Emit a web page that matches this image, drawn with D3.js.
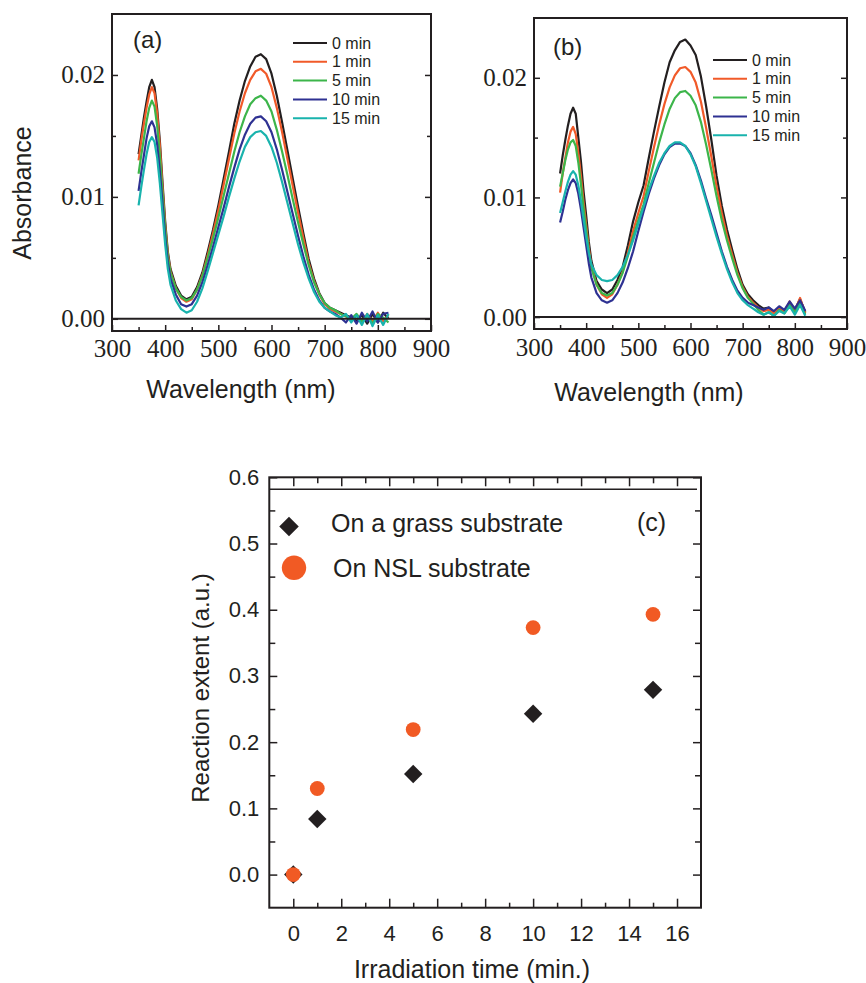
<!DOCTYPE html>
<html lang="en">
<head>
<meta charset="UTF-8">
<title>Absorbance spectra and reaction extent</title>
<script src="https://d3js.org/d3.v7.min.js"></script>
<style>
    body { margin: 0; background: #fff; }
    svg { display: block; }
    .frame { fill: none; stroke: #231f20; stroke-width: 2; }
    .axis line { stroke: #231f20; stroke-width: 1.5; }
    .axis .domain { display: none; }
    .serif text { font-family: "Liberation Serif", "Times New Roman", serif; font-size: 25px; fill: #231f20; }
    .sans text { font-family: "Liberation Sans", Arial, sans-serif; font-size: 22px; fill: #231f20; }
    .label { font-family: "Liberation Sans", Arial, sans-serif; fill: #231f20; }
    .spectrum { fill: none; stroke-width: 2.2; stroke-linejoin: round; }
</style>
</head>
<body>
<svg id="fig" width="866" height="983"></svg>
<script>
// wavelength grid of the spectra (nm)
const wavelengths = [350, 355, 360, 365, 370, 375, 380, 385, 390, 395, 400, 405, 410,
    420, 430, 440, 450, 460, 470, 480, 490, 500, 510, 520, 530, 540, 550, 560, 570, 580,
    590, 600, 610, 620, 630, 640, 650, 660, 670, 680, 690, 700, 710, 720, 730, 740, 750,
    760, 770, 780, 790, 800, 810, 820];

const seriesNames = ["0 min", "1 min", "5 min", "10 min", "15 min"];
const seriesColors = ["#231f20", "#f15a29", "#3cb54a", "#2e3192", "#19b3ad"];

// panel (a)
const absA0 = [.0135, .0150, .0165, .0178, .0190, .0196, .0190, .0172, .0146, .0112, .0080, .0055, .0041,
    .0027, .0019, .0016, .0018, .0026, .0038, .0055, .0073, .0093, .0115, .0137, .0160, .0179, .0195, .0207, .0215, .0217,
    .0213, .0201, .0183, .0161, .0138, .0115, .0092, .0070, .0049, .0033, .0021, .0013, .0009, .0007, .0005, .0003, .0001,
    -.0002, .0003, -.0004, .0004, -.0003, .0005, .0000];
const absA1 = [.0130, .0146, .0160, .0173, .0184, .0190, .0185, .0168, .0142, .0108, .0077, .0053, .0039,
    .0025, .0017, .0014, .0016, .0024, .0036, .0052, .0070, .0089, .0110, .0131, .0152, .0170, .0185, .0196, .0203, .0205,
    .0201, .0190, .0173, .0153, .0131, .0109, .0087, .0066, .0046, .0031, .0020, .0012, .0008, .0006, .0004, .0002, -.0001,
    .0003, -.0003, .0004, -.0002, .0005, -.0002, .0003];
const absA5 = [.0119, .0134, .0148, .0162, .0173, .0179, .0174, .0158, .0134, .0103, .0074, .0051, .0038,
    .0025, .0018, .0015, .0017, .0024, .0035, .0050, .0066, .0083, .0101, .0119, .0137, .0153, .0166, .0176, .0181, .0183,
    .0179, .0170, .0155, .0137, .0118, .0098, .0079, .0061, .0044, .0030, .0020, .0013, .0009, .0007, .0004, .0002, .0000,
    .0004, -.0002, .0003, -.0004, .0004, .0001, -.0003];
const absA10 = [.0105, .0120, .0134, .0148, .0158, .0162, .0157, .0143, .0121, .0094, .0067, .0046, .0033,
    .0020, .0012, .0010, .0012, .0019, .0030, .0044, .0059, .0075, .0091, .0108, .0124, .0139, .0151, .0160, .0165, .0166,
    .0162, .0153, .0139, .0122, .0104, .0086, .0068, .0051, .0036, .0024, .0015, .0009, .0006, .0004, .0001, -.0003, .0003,
    -.0004, .0005, -.0002, .0006, -.0003, .0004, .0005];
const absA15 = [.0093, .0108, .0122, .0135, .0145, .0149, .0145, .0132, .0111, .0086, .0061, .0041, .0028,
    .0015, .0008, .0005, .0007, .0014, .0025, .0039, .0054, .0069, .0084, .0100, .0115, .0129, .0141, .0149, .0153, .0154,
    .0150, .0141, .0128, .0112, .0095, .0078, .0061, .0046, .0033, .0022, .0014, .0009, .0006, .0003, .0001, .0004, -.0003,
    .0003, -.0005, .0004, -.0006, .0003, -.0005, .0004];

// panel (b)
const absB0 = [.0120, .0135, .0148, .0160, .0170, .0175, .0170, .0150, .0130, .0105, .0085, .0063, .0047,
    .0030, .0023, .0020, .0023, .0031, .0042, .0060, .0080, .0096, .0110, .0133, .0155, .0176, .0196, .0213, .0223, .0230,
    .0232, .0227, .0219, .0201, .0176, .0148, .0118, .0093, .0073, .0056, .0040, .0027, .0019, .0014, .0010, .0007, .0008,
    .0004, .0007, .0005, .0012, .0006, .0015, .0004];
const absB1 = [.0104, .0120, .0133, .0146, .0155, .0159, .0153, .0137, .0118, .0096, .0077, .0058, .0043,
    .0027, .0019, .0016, .0019, .0027, .0038, .0054, .0072, .0087, .0101, .0122, .0142, .0161, .0178, .0192, .0202, .0208,
    .0209, .0205, .0196, .0180, .0158, .0134, .0109, .0087, .0068, .0052, .0037, .0025, .0017, .0012, .0008, .0005, .0006,
    .0003, .0008, .0004, .0013, .0005, .0016, .0003];
const absB5 = [.0109, .0120, .0131, .0140, .0146, .0148, .0143, .0129, .0111, .0091, .0073, .0055, .0041,
    .0027, .0020, .0018, .0020, .0027, .0037, .0051, .0067, .0081, .0094, .0112, .0129, .0146, .0161, .0174, .0183, .0188,
    .0189, .0185, .0177, .0163, .0144, .0123, .0101, .0081, .0064, .0049, .0035, .0024, .0016, .0011, .0006, .0002, .0004,
    .0001, .0006, .0003, .0010, .0004, .0012, .0002];
const absB10 = [.0079, .0088, .0098, .0106, .0112, .0115, .0112, .0103, .0090, .0075, .0060, .0045, .0033,
    .0020, .0014, .0012, .0014, .0020, .0029, .0041, .0055, .0072, .0088, .0103, .0116, .0127, .0136, .0142, .0145, .0145,
    .0143, .0137, .0127, .0114, .0099, .0085, .0070, .0055, .0042, .0031, .0022, .0016, .0012, .0010, .0008, .0006, .0008,
    .0005, .0009, .0006, .0013, .0007, .0014, .0005];
const absB15 = [.0087, .0096, .0105, .0113, .0119, .0122, .0119, .0110, .0097, .0082, .0067, .0054, .0044,
    .0035, .0031, .0030, .0031, .0035, .0042, .0052, .0064, .0078, .0092, .0106, .0118, .0129, .0137, .0143, .0146, .0146,
    .0143, .0136, .0126, .0112, .0097, .0082, .0067, .0053, .0040, .0029, .0020, .0014, .0010, .0007, .0004, .0002, .0004,
    .0001, .0005, .0003, .0009, .0002, .0010, .0001];

// panel (c)
const irradTimes = [0, 1, 5, 10, 15];
const glassExtent = [0, 0.084, 0.152, 0.243, 0.279];
const nslExtent = [0, 0.130, 0.219, 0.373, 0.393];

// ticks
const wlTicks = [300, 400, 500, 600, 700, 800, 900];
const wlMinor = [350, 450, 550, 650, 750, 850];
const absTicks = [0, 0.01, 0.02];
const absMinor = [0.005, 0.015];
const timeTicks = [0, 2, 4, 6, 8, 10, 12, 14, 16];
const timeMinor = [1, 3, 5, 7, 9, 11, 13, 15];
const extentTicks = [0, 0.1, 0.2, 0.3, 0.4, 0.5, 0.6];
const extentMinor = [0.05, 0.15, 0.25, 0.35, 0.45, 0.55];

const svg = d3.select("#fig");

function drawTicks(g, axis, transform, cls) {
    const a = g.append("g")
        .attr("class", "axis " + cls)
        .attr("transform", transform)
        .call(axis);
    a.attr("font-family", null).attr("font-size", null);
    return a;
}

function spectrumPanel(cfg) {
    const g = svg.append("g");
    const x = d3.scaleLinear().domain([300, 900]).range([cfg.left, cfg.right]);
    const y = d3.scaleLinear().domain([-0.001, 0.025]).range([cfg.bottom, cfg.top]);

    const line = d3.line()
        .x((d, i) => x(wavelengths[i]))
        .y(d => y(d));

    g.selectAll(".spectrum")
        .data(cfg.series)
        .join("path")
        .attr("class", "spectrum")
        .attr("stroke", (d, i) => seriesColors[i])
        .attr("d", line);

    // zero line
    g.append("line")
        .attr("x1", x(300)).attr("x2", x(900))
        .attr("y1", y(0)).attr("y2", y(0))
        .attr("stroke", "#231f20").attr("stroke-width", 2);

    drawTicks(g, d3.axisBottom(x).tickValues(wlTicks).tickSize(-6).tickPadding(cfg.xPad).tickFormat(d3.format("d")),
        `translate(0,${cfg.bottom})`, "serif");
    drawTicks(g, d3.axisBottom(x).tickValues(wlMinor.filter(v => v < 900)).tickSize(-4).tickFormat(""),
        `translate(0,${cfg.bottom})`, "serif");
    drawTicks(g, d3.axisLeft(y).tickValues(absTicks).tickSize(-6).tickPadding(7).tickFormat(d3.format(".2f")),
        `translate(${cfg.left},0)`, "serif");
    drawTicks(g, d3.axisLeft(y).tickValues(absMinor).tickSize(-4).tickFormat(""),
        `translate(${cfg.left},0)`, "serif");
    drawTicks(g, d3.axisRight(y).tickValues(absTicks).tickSize(-6).tickFormat(""),
        `translate(${cfg.right},0)`, "serif");
    drawTicks(g, d3.axisRight(y).tickValues(absMinor).tickSize(-4).tickFormat(""),
        `translate(${cfg.right},0)`, "serif");

    g.append("rect").attr("class", "frame")
        .attr("x", cfg.left).attr("y", cfg.top)
        .attr("width", cfg.right - cfg.left).attr("height", cfg.bottom - cfg.top);

    // legend
    const leg = g.append("g");
    seriesNames.forEach((name, i) => {
        const ly = cfg.legY + i * cfg.legStep;
        leg.append("line")
            .attr("x1", cfg.legX).attr("x2", cfg.legX + 34)
            .attr("y1", ly).attr("y2", ly)
            .attr("stroke", seriesColors[i]).attr("stroke-width", 2);
        leg.append("text").attr("class", "label")
            .attr("x", cfg.legX + 39).attr("y", ly + 5.5)
            .attr("font-size", 16)
            .text(name);
    });

    g.append("text").attr("class", "label")
        .attr("x", cfg.tagX).attr("y", cfg.tagY)
        .attr("font-size", 24)
        .text(cfg.tag);

    g.append("text").attr("class", "label")
        .attr("x", cfg.xLabelX).attr("y", cfg.xLabelY)
        .attr("text-anchor", "middle")
        .attr("font-size", 25)
        .text("Wavelength (nm)");

    if (cfg.yLabel) {
        g.append("text").attr("class", "label")
            .attr("transform", `translate(31,193) rotate(-90)`)
            .attr("text-anchor", "middle")
            .attr("font-size", 25)
            .text(cfg.yLabel);
    }
}

spectrumPanel({
    left: 112, right: 431, top: 14, bottom: 331, xPad: 8,
    series: [absA0, absA1, absA5, absA10, absA15],
    legX: 293, legY: 43, legStep: 18.8,
    tag: "(a)", tagX: 133, tagY: 48,
    xLabelX: 241, xLabelY: 398,
    yLabel: "Absorbance"
});

spectrumPanel({
    left: 534, right: 847, top: 18, bottom: 329, xPad: 9,
    series: [absB0, absB1, absB5, absB10, absB15],
    legX: 713, legY: 60, legStep: 18.8,
    tag: "(b)", tagX: 553, tagY: 55,
    xLabelX: 649, xLabelY: 401
});

// panel (c)
(function () {
    const left = 269.3, right = 701, top = 477.3, bottom = 907.7;
    const g = svg.append("g");
    const x = d3.scaleLinear().domain([-1, 17]).range([left, right]);
    const y = d3.scaleLinear().domain([-0.05, 0.6]).range([bottom, top]);

    drawTicks(g, d3.axisBottom(x).tickValues(timeTicks).tickSize(-9).tickPadding(18).tickFormat(d3.format("d")),
        `translate(0,${bottom})`, "sans");
    drawTicks(g, d3.axisBottom(x).tickValues(timeMinor).tickSize(-5).tickFormat(""),
        `translate(0,${bottom})`, "sans");
    drawTicks(g, d3.axisTop(x).tickValues(timeTicks).tickSize(-9).tickFormat(""),
        `translate(0,${top})`, "sans");
    drawTicks(g, d3.axisTop(x).tickValues(timeMinor).tickSize(-6).tickFormat(""),
        `translate(0,${top})`, "sans");
    drawTicks(g, d3.axisLeft(y).tickValues(extentTicks).tickSize(-8).tickPadding(10).tickFormat(d3.format(".1f")),
        `translate(${left},0)`, "sans");
    drawTicks(g, d3.axisLeft(y).tickValues(extentMinor).tickSize(-6).tickFormat(""),
        `translate(${left},0)`, "sans");
    drawTicks(g, d3.axisRight(y).tickValues(extentTicks).tickSize(-8).tickFormat(""),
        `translate(${right},0)`, "sans");
    drawTicks(g, d3.axisRight(y).tickValues(extentMinor).tickSize(-6).tickFormat(""),
        `translate(${right},0)`, "sans");

    g.append("rect").attr("class", "frame")
        .attr("x", left).attr("y", top)
        .attr("width", right - left).attr("height", bottom - top);
    // inner rule under the top ticks
    g.append("line")
        .attr("x1", left).attr("x2", right - 4)
        .attr("y1", top + 12).attr("y2", top + 12)
        .attr("stroke", "#231f20").attr("stroke-width", 1.6);

    const diamond = d3.symbol(d3.symbolSquare, 170);
    const diamondBig = d3.symbol(d3.symbolSquare, 190);

    g.selectAll(".glass")
        .data(irradTimes)
        .join("path")
        .attr("class", "glass")
        .attr("transform", (d, i) => `translate(${x(d)},${y(glassExtent[i])}) rotate(45)`)
        .attr("d", diamond)
        .attr("fill", "#231f20");

    g.selectAll(".nsl")
        .data(irradTimes)
        .join("circle")
        .attr("class", "nsl")
        .attr("cx", d => x(d))
        .attr("cy", (d, i) => y(nslExtent[i]))
        .attr("r", 7.4)
        .attr("fill", "#f15a24");

    // legend
    g.append("path")
        .attr("transform", "translate(289,526.5) rotate(45)")
        .attr("d", diamondBig)
        .attr("fill", "#231f20");
    g.append("circle")
        .attr("cx", 294).attr("cy", 567.8).attr("r", 12.2)
        .attr("fill", "#f15a24");
    g.append("text").attr("class", "label")
        .attr("x", 331).attr("y", 532)
        .attr("font-size", 25)
        .text("On a grass substrate");
    g.append("text").attr("class", "label")
        .attr("x", 333).attr("y", 577)
        .attr("font-size", 25)
        .text("On NSL substrate");
    g.append("text").attr("class", "label")
        .attr("x", 637).attr("y", 531)
        .attr("font-size", 25)
        .text("(c)");

    g.append("text").attr("class", "label")
        .attr("x", 472).attr("y", 978)
        .attr("text-anchor", "middle")
        .attr("font-size", 25)
        .text("Irradiation time (min.)");
    g.append("text").attr("class", "label")
        .attr("transform", "translate(209,688) rotate(-90)")
        .attr("text-anchor", "middle")
        .attr("font-size", 24)
        .text("Reaction extent (a.u.)");
})();
</script>
</body>
</html>
